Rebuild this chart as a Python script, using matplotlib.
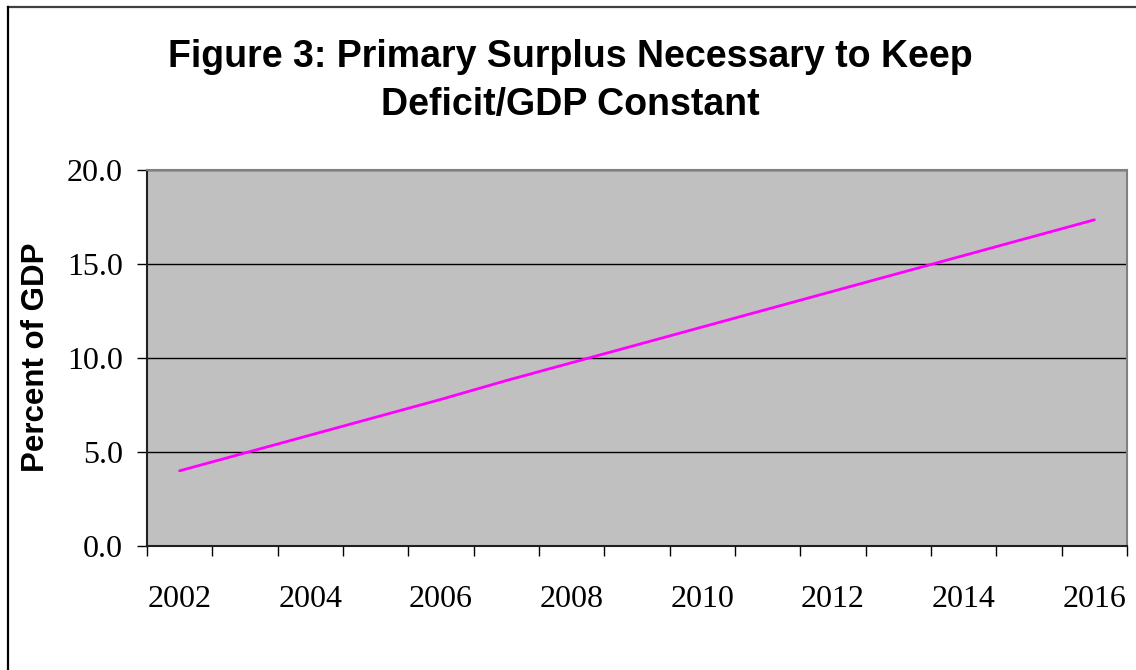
import matplotlib
matplotlib.use("Agg")
import matplotlib.pyplot as plt
from matplotlib.lines import Line2D

years = [2002, 2003, 2004, 2005, 2006, 2007, 2008, 2009, 2010, 2011, 2012, 2013, 2014, 2015, 2016]
surplus = [4.0, 4.95, 5.9, 6.85, 7.8, 8.8, 9.75, 10.7, 11.65, 12.6, 13.55, 14.5, 15.45, 16.4, 17.35]
y_ticks = [0.0, 5.0, 10.0, 15.0, 20.0]
title_lines = ["Figure 3: Primary Surplus Necessary to Keep", "Deficit/GDP Constant"]
ylabel_text = "Percent of GDP"

W, H = 1136, 670
fig = plt.figure(figsize=(W / 100, H / 100), dpi=100)
fig.patch.set_facecolor("white")

left, right, top, bottom = 147, 1127, 170, 546
ax = fig.add_axes([left / W, 1 - bottom / H, (right - left) / W, (bottom - top) / H])
ax.set_facecolor("#C0C0C0")

x = list(range(len(years)))
ax.plot(x, surplus, color="#FF00FF", lw=2.0, solid_capstyle="round", zorder=3)

ax.set_xlim(-0.5, len(years) - 0.5)
ax.set_ylim(0, 20)

tick_font = dict(fontfamily="Liberation Serif", fontsize=23)

# major ticks at category boundaries, no labels
ax.set_xticks([i - 0.5 for i in range(len(years) + 1)])
ax.set_xticklabels([])
ax.tick_params(axis="x", which="major", direction="out", length=7.5, width=1.0, color="black")
# minor ticks at every other category with labels
lab_pos = [i for i in x if i % 2 == 0]
ax.set_xticks(lab_pos, minor=True)
ax.set_xticklabels([str(years[i]) for i in lab_pos], minor=True, **tick_font)
ax.tick_params(axis="x", which="minor", length=0, pad=28)

ax.set_yticks(y_ticks)
ax.set_yticklabels([f"{v:.1f}" for v in y_ticks], **tick_font)
ax.tick_params(axis="y", direction="out", length=7.5, width=1.0, color="black", pad=10)

ax.yaxis.grid(True, color="black", lw=1.0, zorder=1)

for s in ["left", "bottom"]:
    ax.spines[s].set_color("#202020")
    ax.spines[s].set_linewidth(1.5)
for s in ["top", "right"]:
    ax.spines[s].set_color("#808080")
    ax.spines[s].set_linewidth(1.5)

fig.text(36 / W, 1 - 357 / H, ylabel_text, rotation=90, ha="center", va="center",
         fontfamily="Liberation Sans", fontweight="bold", fontsize=22.5)

for txt, base in zip(title_lines, [67, 115]):
    fig.text(570 / W, 1 - base / H, txt, ha="center", va="baseline",
             fontfamily="Liberation Sans", fontweight="bold", fontsize=27)

# outer chart border (top and left visible)
fig.add_artist(Line2D([8 / W, 1.0], [1 - 6.5 / H, 1 - 6.5 / H], transform=fig.transFigure,
                      color="#404040", lw=1.6))
fig.add_artist(Line2D([8 / W, 8 / W], [0.0, 1 - 6.5 / H], transform=fig.transFigure,
                      color="black", lw=1.6))

fig.savefig("out.png", dpi=100)
